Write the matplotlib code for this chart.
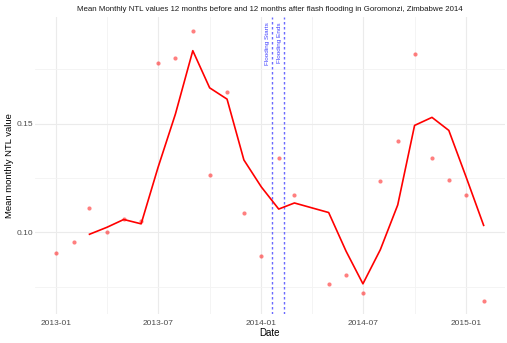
#!/usr/bin/env python3
"""
Mean monthly NTL values around the 2014 Goromonzi flash flood
"""
import datetime as dt
import matplotlib
matplotlib.use("Agg")
import matplotlib.pyplot as plt
import matplotlib.dates as mdates

plt.rcParams['font.family'] = ['Liberation Sans', 'DejaVu Sans']

#--------------------------------------
# Data
#--------------------------------------
months = ['2013-01', '2013-02', '2013-03', '2013-04', '2013-05', '2013-06',
          '2013-07', '2013-08', '2013-09', '2013-10', '2013-11', '2013-12',
          '2014-01', '2014-02', '2014-03', '2014-05', '2014-06', '2014-07',
          '2014-08', '2014-09', '2014-10', '2014-11', '2014-12', '2015-01',
          '2015-02']
ntl_monthly = [0.0906, 0.0954, 0.1112, 0.1003, 0.1063, 0.1051,
               0.1780, 0.1802, 0.1927, 0.1265, 0.1646, 0.1089,
               0.0892, 0.1340, 0.1172, 0.0762, 0.0804, 0.0722,
               0.1235, 0.1422, 0.1820, 0.1344, 0.1242, 0.1172,
               0.0682]
# 3-month running mean as drawn (first two months have none)
ntl_smooth = [None, None, 0.0991, 0.1023, 0.1059, 0.1039,
              0.1298, 0.1544, 0.1836, 0.1665, 0.1613, 0.1333,
              0.1209, 0.1107, 0.1135, 0.1091, 0.0913, 0.0763,
              0.0920, 0.1126, 0.1492, 0.1529, 0.1469, 0.1253,
              0.1032]
flood_start = '2014-01-20'
flood_end = '2014-02-10'

dates = [dt.datetime.strptime(m, '%Y-%m') for m in months]
smooth_dates = [d for d, v in zip(dates, ntl_smooth) if v is not None]
smooth_vals = [v for v in ntl_smooth if v is not None]
fs = dt.datetime.strptime(flood_start, '%Y-%m-%d')
fe = dt.datetime.strptime(flood_end, '%Y-%m-%d')

#--------------------------------------
# Plot
#--------------------------------------
fig = plt.figure(figsize=(5.07, 3.43), dpi=100)
ax = fig.add_axes([35/507, 29/343, 470/507, 297/343])

ax.scatter(dates, ntl_monthly, s=9, color='red', alpha=0.5, linewidths=0, zorder=3)
ax.plot(smooth_dates, smooth_vals, color='red', lw=1.2, zorder=4)

for d, lab in [(fs, 'Flooding Starts'), (fe, 'Flooding Ends')]:
    ax.axvline(d, color='#6a6aff', lw=1.0, ls=(0, (1.8, 1.8)), zorder=2)
    ax.annotate(lab, xy=(d, 0.1968), xytext=(-1.5, 0), textcoords='offset points',
                rotation=90, ha='right', va='top', fontsize=4.6, color='#3f3fff')

# Axes limits / ticks (ggplot style)
d0 = mdates.date2num(dates[0])
d1 = mdates.date2num(dates[-1])
pad = (d1 - d0) * 0.05
ax.set_xlim(d0 - pad, d1 + pad)
ax.set_ylim(0.0624, 0.1991)

ax.set_xticks([mdates.date2num(dt.datetime(y, m, 1))
               for y, m in [(2013, 1), (2013, 7), (2014, 1), (2014, 7), (2015, 1)]])
ax.set_xticks([mdates.date2num(dt.datetime(y, m, 1))
               for y, m in [(2013, 4), (2013, 10), (2014, 4), (2014, 10)]], minor=True)
ax.xaxis.set_major_formatter(mdates.DateFormatter('%Y-%m'))
ax.set_yticks([0.10, 0.15])
ax.set_yticks([0.075, 0.125, 0.175], minor=True)
ax.yaxis.set_major_formatter(matplotlib.ticker.FormatStrFormatter('%.2f'))

ax.grid(which='major', color='#ebebeb', lw=0.8)
ax.grid(which='minor', color='#f3f3f3', lw=0.6)
ax.set_axisbelow(True)
for s in ax.spines.values():
    s.set_visible(False)
ax.tick_params(which='both', length=0, labelsize=6, labelcolor='#4d4d4d')
ax.tick_params(axis='y', pad=1.5)
ax.tick_params(axis='x', pad=4)

fig.text(270/507, 1 - 333/343, 'Date', fontsize=7, ha='center', va='center')
fig.text(10/507, 1 - 166/343, 'Mean monthly NTL value', fontsize=6.8,
         rotation=90, ha='center', va='center')
ax.set_title('Mean Monthly NTL values 12 months before and 12 months after flash flooding in Goromonzi, Zimbabwe 2014',
             fontsize=5.65, pad=4, color='#1a1a1a')

fig.savefig('out.png', dpi=100)
